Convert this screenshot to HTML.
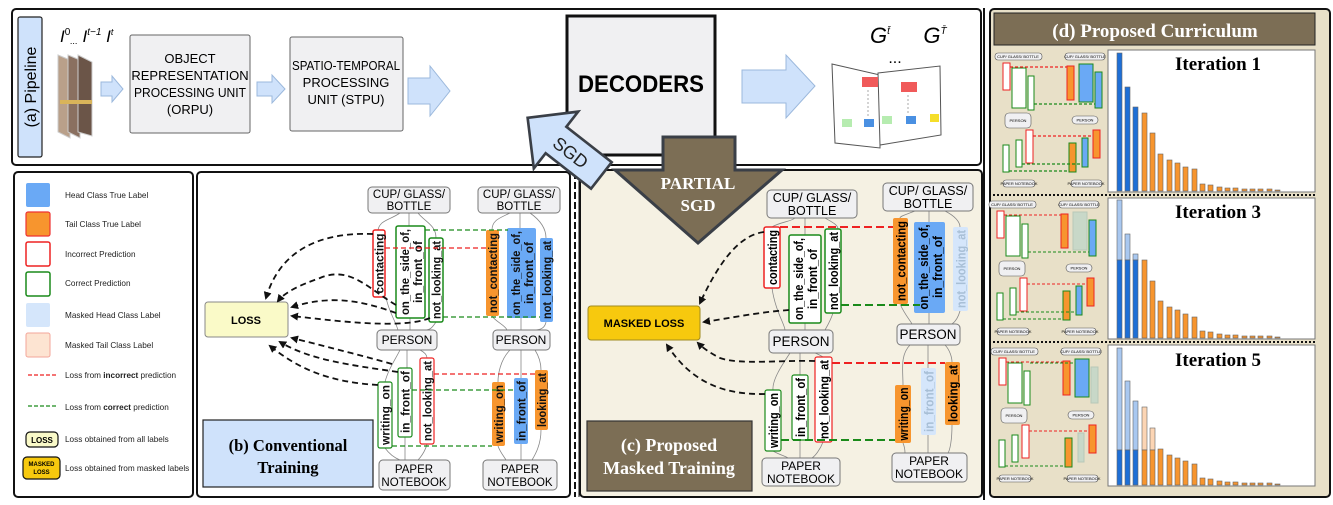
<!DOCTYPE html>
<html><head><meta charset="utf-8"><style>
html,body{margin:0;padding:0;background:#fff;}
svg{display:block;}
text{font-family:"Liberation Sans",sans-serif;}
.s{font-family:"Liberation Serif",serif;font-weight:bold;}
.lb{font-size:12px;fill:#111;}
.bx{fill:#f0f0f2;stroke:#777;stroke-width:1;}
.ln{fill:none;stroke:#888;stroke-width:0.8;}
.bd{fill:none;stroke:#111;stroke-width:1.8;stroke-dasharray:6,4;}
</style></head><body>
<svg width="1333" height="505" viewBox="0 0 1333 505" xmlns="http://www.w3.org/2000/svg">
<defs>
<marker id="ah" markerWidth="8" markerHeight="8" refX="6" refY="4" orient="auto" markerUnits="userSpaceOnUse"><path d="M0,0 L8,4 L0,8 Z" fill="#111"/></marker>
</defs>

<!-- (a) pipeline panel -->
<rect x="12" y="9" width="969" height="156" rx="4" fill="#fff" stroke="#111" stroke-width="2"/>
<rect x="18" y="17" width="24" height="140" rx="2" fill="#cfe2fb" stroke="#222" stroke-width="1.2"/>
<text x="0" y="0" font-family="Liberation Serif" font-size="16" transform="translate(36,87) rotate(-90)" text-anchor="middle">(a) Pipeline</text>
<text x="60" y="42" font-family="Liberation Serif" font-style="italic" font-size="17">I<tspan font-size="10" dy="-7" font-style="normal">0</tspan><tspan font-size="9" dy="9">...</tspan><tspan dy="-2"> I</tspan><tspan font-size="10" dy="-7">t−1</tspan><tspan dy="7"> I</tspan><tspan font-size="9" dy="-7">t</tspan></text>
<polygon points="58,55 70,60 70,138 58,132" fill="#b9a08a" stroke="#ccc"/>
<polygon points="68,55 80,60 80,138 68,132" fill="#8a7060" stroke="#ccc"/>
<polygon points="78,55 92,62 92,136 78,132" fill="#6b5548" stroke="#ccc"/>
<rect x="60" y="100" width="32" height="4" fill="#d9b45a"/>
<polygon points="101,82 112,82 112,76 123,89 112,102 112,96 101,96" fill="#cfe2fb" stroke="#9bb8dc"/>
<rect x="130" y="35" width="120" height="98" rx="2" fill="#f0f0f2" stroke="#666"/>
<text x="190" y="63" font-size="13" text-anchor="middle">OBJECT</text>
<text x="190" y="80" font-size="13" text-anchor="middle">REPRESENTATION</text>
<text x="190" y="97" font-size="13" text-anchor="middle" textLength="112" lengthAdjust="spacingAndGlyphs">PROCESSING UNIT</text>
<text x="190" y="114" font-size="13" text-anchor="middle">(ORPU)</text>
<polygon points="257,82 272,82 272,75 285,89 272,103 272,96 257,96" fill="#cfe2fb" stroke="#9bb8dc"/>
<rect x="290" y="37" width="113" height="94" rx="2" fill="#f0f0f2" stroke="#666"/>
<text x="346" y="70" font-size="13" text-anchor="middle" textLength="108" lengthAdjust="spacingAndGlyphs">SPATIO-TEMPORAL</text>
<text x="346" y="87" font-size="13" text-anchor="middle">PROCESSING</text>
<text x="346" y="104" font-size="13" text-anchor="middle">UNIT (STPU)</text>
<polygon points="408,78 430,78 430,66 450,91 430,116 430,104 408,104" fill="#cfe2fb" stroke="#9bb8dc"/>
<rect x="567" y="16" width="148" height="139" fill="#f0f0f2" stroke="#111" stroke-width="3"/>
<text x="641" y="92" font-size="24" font-weight="bold" text-anchor="middle" textLength="126" lengthAdjust="spacingAndGlyphs">DECODERS</text>
<polygon points="742,70 786,70 786,55 815,86 786,118 786,103 742,103" fill="#cfe2fb" stroke="#9bb8dc"/>
<text x="880" y="43" font-family="Liberation Serif" font-style="italic" font-size="22" text-anchor="middle">G<tspan font-size="10" dy="-9">t̄</tspan></text>
<text x="895" y="63" font-size="16" text-anchor="middle">...</text>
<text x="935" y="43" font-family="Liberation Serif" font-style="italic" font-size="22" text-anchor="middle">G<tspan font-size="10" dy="-9">T̄</tspan></text>
<polygon points="832,64 880,75 880,148 835,143" fill="#fff" stroke="#555"/>
<polygon points="878,73 940,66 941,135 880,145" fill="#fff" stroke="#555"/>
<rect x="862" y="77" width="16" height="10" fill="#f05a5a"/><rect x="901" y="82" width="16" height="10" fill="#f05a5a"/>
<rect x="842" y="119" width="10" height="8" fill="#b6ecb0"/><rect x="864" y="119" width="10" height="8" fill="#4a90e2"/>
<rect x="882" y="116" width="10" height="8" fill="#b6ecb0"/><rect x="906" y="116" width="10" height="8" fill="#4a90e2"/><rect x="930" y="114" width="9" height="8" fill="#f5de2a"/>
<line x1="868" y1="90" x2="868" y2="118" stroke="#aaa" stroke-dasharray="2,2"/><line x1="908" y1="95" x2="908" y2="115" stroke="#aaa" stroke-dasharray="2,2"/>

<!-- legend -->
<rect x="14" y="172" width="179" height="325" rx="4" fill="#fff" stroke="#111" stroke-width="2"/>
<rect x="26" y="183" width="24" height="24" rx="2" fill="#6aa9f5"/>
<rect x="26" y="212" width="24" height="24" rx="2" fill="#f7952e" stroke="#e33" stroke-width="1.2"/>
<rect x="26" y="242" width="24" height="24" rx="2" fill="#fff" stroke="#e22" stroke-width="1.5"/>
<rect x="26" y="272" width="24" height="24" rx="2" fill="#fff" stroke="#1a8a1a" stroke-width="1.5"/>
<rect x="26" y="303" width="24" height="24" rx="2" fill="#d5e6fb"/>
<rect x="26" y="333" width="24" height="24" rx="2" fill="#fde4d2" stroke="#f3a69a"/>
<line x1="28" y1="375" x2="57" y2="375" stroke="#e22" stroke-width="1.2" stroke-dasharray="4,2"/>
<line x1="28" y1="406" x2="57" y2="406" stroke="#1a8a1a" stroke-width="1.2" stroke-dasharray="4,2"/>
<rect x="26" y="432" width="32" height="15" rx="4" fill="#fafac8" stroke="#111" stroke-width="1.2"/>
<text x="42" y="443" font-size="8" font-weight="bold" text-anchor="middle">LOSS</text>
<rect x="23" y="457" width="37" height="22" rx="4" fill="#f7c90e" stroke="#111" stroke-width="1.2"/>
<text x="41.5" y="466" font-size="6" font-weight="bold" text-anchor="middle">MASKED</text>
<text x="41.5" y="474" font-size="6" font-weight="bold" text-anchor="middle">LOSS</text>
<g font-size="8.2" fill="#222">
<text x="65" y="198">Head Class True Label</text>
<text x="65" y="227">Tail Class True Label</text>
<text x="65" y="257">Incorrect Prediction</text>
<text x="65" y="286">Correct Prediction</text>
<text x="65" y="318">Masked Head Class Label</text>
<text x="65" y="348">Masked Tail Class Label</text>
<text x="65" y="378">Loss from <tspan font-weight="bold">incorrect</tspan> prediction</text>
<text x="65" y="410">Loss from <tspan font-weight="bold">correct</tspan> prediction</text>
<text x="65" y="442">Loss obtained from all labels</text>
<text x="65" y="471">Loss obtained from masked labels</text>
</g>

<!-- (b) panel -->
<rect x="197" y="172" width="373" height="325" rx="4" fill="#fff" stroke="#111" stroke-width="2"/>
<line x1="575" y1="172" x2="575" y2="497" stroke="#111" stroke-width="2" stroke-dasharray="7,3"/>
<line x1="579" y1="172" x2="579" y2="497" stroke="#111" stroke-width="1"/>
<path class="ln" d="M400,213 C390,220 380,220 378,230 M409,213 V226 M418,213 C425,222 436,225 436,238 M386,297 C388,310 395,320 398,330 M410,318 V330 M436,322 C432,328 430,330 425,330 M400,350 C395,360 388,370 385,382 M407,350 V368 M420,350 C424,352 427,355 427,358 M385,448 C390,455 395,458 400,460 M405,437 V460 M427,444 C425,452 420,458 418,460"/>
<path class="ln" d="M510,213 C500,218 492,220 492,230 M520,213 V228 M530,213 C540,220 546,228 546,238 M492,316 C496,322 505,325 507,330 M521,318 V330 M546,322 C545,328 540,330 535,330 M510,350 C500,360 498,375 498,382 M521,350 V378 M535,350 C540,358 541,365 541,370 M498,446 C500,452 505,458 506,460 M521,444 V460 M541,430 C541,445 535,455 532,460"/>
<rect class="bx" x="368" y="187" width="82" height="26" rx="4"/>
<text x="409" y="198" font-size="11.5" text-anchor="middle">CUP/ GLASS/</text><text x="409" y="210" font-size="11.5" text-anchor="middle">BOTTLE</text>
<rect class="bx" x="478" y="187" width="82" height="26" rx="4"/>
<text x="519" y="198" font-size="11.5" text-anchor="middle">CUP/ GLASS/</text><text x="519" y="210" font-size="11.5" text-anchor="middle">BOTTLE</text>
<rect class="bx" x="377" y="330" width="60" height="20" rx="4"/><text x="407" y="344" font-size="12" text-anchor="middle">PERSON</text>
<rect class="bx" x="493" y="330" width="57" height="20" rx="4"/><text x="521" y="344" font-size="12" text-anchor="middle">PERSON</text>
<rect class="bx" x="379" y="460" width="71" height="30" rx="4"/><text x="414" y="473" font-size="11.5" text-anchor="middle">PAPER</text><text x="414" y="486" font-size="11.5" text-anchor="middle">NOTEBOOK</text>
<rect class="bx" x="483" y="460" width="74" height="30" rx="4"/><text x="520" y="473" font-size="11.5" text-anchor="middle">PAPER</text><text x="520" y="486" font-size="11.5" text-anchor="middle">NOTEBOOK</text>
<g class="lb" font-weight="bold" font-size="12">
<rect x="373" y="230" width="12" height="67" rx="2" fill="#fff" stroke="#e22" stroke-width="1.5"/>
<text transform="translate(383.5,263.5) rotate(-90)" text-anchor="middle" textLength="60" lengthAdjust="spacingAndGlyphs">contacting</text>
<rect x="396" y="226" width="29" height="92" rx="2" fill="#fff" stroke="#1a8a1a" stroke-width="1.5"/>
<text transform="translate(409,272) rotate(-90)" text-anchor="middle" textLength="86" lengthAdjust="spacingAndGlyphs">on_the_side_of,</text>
<text transform="translate(422,272) rotate(-90)" text-anchor="middle" textLength="62" lengthAdjust="spacingAndGlyphs">in_front_of</text>
<rect x="429" y="238" width="14" height="84" rx="2" fill="#fff" stroke="#1a8a1a" stroke-width="1.5"/>
<text transform="translate(440.5,280) rotate(-90)" text-anchor="middle" textLength="78" lengthAdjust="spacingAndGlyphs">not_looking_at</text>
<rect x="486" y="230" width="13" height="86" rx="2" fill="#f7952e"/>
<text transform="translate(497,273) rotate(-90)" text-anchor="middle" textLength="80" lengthAdjust="spacingAndGlyphs">not_contacting</text>
<rect x="507" y="228" width="29" height="90" rx="2" fill="#6aa9f5"/>
<text transform="translate(520,273) rotate(-90)" text-anchor="middle" textLength="84" lengthAdjust="spacingAndGlyphs">on_the_side_of,</text>
<text transform="translate(533,273) rotate(-90)" text-anchor="middle" textLength="62" lengthAdjust="spacingAndGlyphs">in_front_of</text>
<rect x="540" y="238" width="13" height="84" rx="2" fill="#6aa9f5"/>
<text transform="translate(551,280) rotate(-90)" text-anchor="middle" textLength="78" lengthAdjust="spacingAndGlyphs">not_looking_at</text>
<rect x="378" y="382" width="14" height="66" rx="2" fill="#fff" stroke="#1a8a1a" stroke-width="1.2"/>
<text transform="translate(389.5,415) rotate(-90)" text-anchor="middle" textLength="60" lengthAdjust="spacingAndGlyphs">writing_on</text>
<rect x="398" y="368" width="14" height="69" rx="2" fill="#fff" stroke="#1a8a1a" stroke-width="1.2"/>
<text transform="translate(409.5,402) rotate(-90)" text-anchor="middle" textLength="62" lengthAdjust="spacingAndGlyphs">in_front_of</text>
<rect x="420" y="358" width="14" height="86" rx="2" fill="#fff" stroke="#e22" stroke-width="1.2"/>
<text transform="translate(431.5,401) rotate(-90)" text-anchor="middle" textLength="80" lengthAdjust="spacingAndGlyphs">not_looking_at</text>
<rect x="492" y="382" width="13" height="64" rx="2" fill="#f7952e"/>
<text transform="translate(503,414) rotate(-90)" text-anchor="middle" textLength="58" lengthAdjust="spacingAndGlyphs">writing_on</text>
<rect x="514" y="378" width="14" height="66" rx="2" fill="#6aa9f5"/>
<text transform="translate(525.5,411) rotate(-90)" text-anchor="middle" textLength="60" lengthAdjust="spacingAndGlyphs">in_front_of</text>
<rect x="535" y="370" width="13" height="60" rx="2" fill="#f7952e"/>
<text transform="translate(546,400) rotate(-90)" text-anchor="middle" textLength="54" lengthAdjust="spacingAndGlyphs">looking_at</text>
</g>
<g stroke-width="1.3" stroke-dasharray="5,3" fill="none">
<line x1="425" y1="230" x2="508" y2="230" stroke="#1a8a1a"/>
<line x1="385" y1="248" x2="487" y2="248" stroke="#e22"/>
<line x1="443" y1="317" x2="540" y2="317" stroke="#1a8a1a"/>
<line x1="434" y1="374" x2="538" y2="374" stroke="#e22"/>
<line x1="412" y1="390" x2="516" y2="390" stroke="#1a8a1a"/>
<line x1="392" y1="446" x2="492" y2="446" stroke="#1a8a1a"/>
</g>
<rect x="205" y="302" width="83" height="35" rx="3" fill="#fafac8" stroke="#888"/>
<text x="246" y="324" font-size="11" font-weight="bold" text-anchor="middle">LOSS</text>
<g marker-end="url(#ah)">
<path class="bd" d="M373,234 C320,232 280,250 266,298"/>
<path class="bd" d="M396,305 C370,290 350,265 320,278 C300,285 285,292 278,301"/>
<path class="bd" d="M396,313 C360,300 330,295 292,307"/>
<path class="bd" d="M430,318 C400,330 330,320 292,316"/>
<path class="bd" d="M392,364 C360,355 320,345 292,338"/>
<path class="bd" d="M398,372 C350,365 310,360 280,342"/>
<path class="bd" d="M378,385 C330,382 300,370 270,346"/>
</g>
<rect x="203" y="420" width="170" height="67" fill="#cfe2fb" stroke="#222" stroke-width="1.2"/>
<text class="s" x="288" y="451" font-size="16.5" text-anchor="middle">(b) Conventional</text>
<text class="s" x="288" y="473" font-size="16.5" text-anchor="middle">Training</text>

<!-- (c) panel -->
<rect x="580" y="170" width="402" height="327" rx="4" fill="#f5f1e3" stroke="#111" stroke-width="2"/>
<path class="ln" d="M795,218 C790,222 780,222 772,227 M805,218 V235 M825,218 C832,222 838,225 838,229 M772,288 C775,310 785,325 785,330 M805,323 V330 M833,313 C830,322 826,328 825,330 M790,353 C782,365 772,380 773,390 M800,353 V375 M815,353 C820,355 823,357 823,357 M773,451 C780,455 785,456 788,458 M800,440 V458 M823,442 C820,450 815,456 812,458"/>
<path class="ln" d="M915,211 C905,215 900,216 900,218 M929,211 V222 M945,211 C955,216 960,222 960,227 M900,304 C905,315 910,320 912,324 M929,313 V324 M960,311 C958,318 955,322 952,324 M910,345 C900,355 903,370 903,385 M928,345 V368 M945,345 C950,350 952,358 952,362 M903,443 C905,448 905,452 905,453 M928,435 V453 M952,425 C952,440 950,450 948,453"/>
<rect class="bx" x="767" y="190" width="90" height="28" rx="4"/>
<text x="812" y="202" font-size="12.5" text-anchor="middle">CUP/ GLASS/</text><text x="812" y="215" font-size="12.5" text-anchor="middle">BOTTLE</text>
<rect class="bx" x="883" y="183" width="90" height="28" rx="4"/>
<text x="928" y="195" font-size="12.5" text-anchor="middle">CUP/ GLASS/</text><text x="928" y="208" font-size="12.5" text-anchor="middle">BOTTLE</text>
<rect class="bx" x="769" y="330" width="64" height="23" rx="4"/><text x="801" y="346" font-size="13.5" text-anchor="middle">PERSON</text>
<rect class="bx" x="897" y="324" width="63" height="21" rx="4"/><text x="928" y="339" font-size="13.5" text-anchor="middle">PERSON</text>
<rect class="bx" x="762" y="458" width="78" height="28" rx="4"/><text x="801" y="470" font-size="12" text-anchor="middle">PAPER</text><text x="801" y="483" font-size="12" text-anchor="middle">NOTEBOOK</text>
<rect class="bx" x="892" y="453" width="75" height="29" rx="4"/><text x="929" y="465" font-size="12" text-anchor="middle">PAPER</text><text x="929" y="478" font-size="12" text-anchor="middle">NOTEBOOK</text>
<g font-size="13" font-weight="bold">
<rect x="764" y="227" width="16" height="61" rx="2" fill="#fff" stroke="#e22" stroke-width="1.5"/>
<text transform="translate(777,257.5) rotate(-90)" text-anchor="middle" textLength="55" lengthAdjust="spacingAndGlyphs">contacting</text>
<rect x="789" y="235" width="32" height="88" rx="2" fill="#fff" stroke="#1a8a1a" stroke-width="1.5"/>
<text transform="translate(803,279) rotate(-90)" text-anchor="middle" textLength="82" lengthAdjust="spacingAndGlyphs">on_the_side_of,</text>
<text transform="translate(817,279) rotate(-90)" text-anchor="middle" textLength="60" lengthAdjust="spacingAndGlyphs">in_front_of</text>
<rect x="825" y="229" width="16" height="84" rx="2" fill="#fff" stroke="#1a8a1a" stroke-width="1.5"/>
<text transform="translate(838,271) rotate(-90)" text-anchor="middle" textLength="78" lengthAdjust="spacingAndGlyphs">not_looking_at</text>
<rect x="893" y="218" width="15" height="86" rx="2" fill="#f7952e"/>
<text transform="translate(905.5,261) rotate(-90)" text-anchor="middle" textLength="80" lengthAdjust="spacingAndGlyphs">not_contacting</text>
<rect x="914" y="222" width="31" height="91" rx="2" fill="#6aa9f5"/>
<text transform="translate(928,267) rotate(-90)" text-anchor="middle" textLength="85" lengthAdjust="spacingAndGlyphs">on_the_side_of,</text>
<text transform="translate(942,267) rotate(-90)" text-anchor="middle" textLength="62" lengthAdjust="spacingAndGlyphs">in_front_of</text>
<rect x="953" y="227" width="15" height="84" rx="2" fill="#d5e6fb"/>
<text transform="translate(965.5,269) rotate(-90)" text-anchor="middle" fill="#a8bfd6" textLength="78" lengthAdjust="spacingAndGlyphs">not_looking_at</text>
<rect x="765" y="390" width="16" height="61" rx="2" fill="#fff" stroke="#1a8a1a" stroke-width="1.2"/>
<text transform="translate(778,420.5) rotate(-90)" text-anchor="middle" textLength="55" lengthAdjust="spacingAndGlyphs">writing_on</text>
<rect x="792" y="375" width="16" height="65" rx="2" fill="#fff" stroke="#1a8a1a" stroke-width="1.2"/>
<text transform="translate(805,407.5) rotate(-90)" text-anchor="middle" textLength="59" lengthAdjust="spacingAndGlyphs">in_front_of</text>
<rect x="815" y="357" width="17" height="85" rx="2" fill="#fff" stroke="#e22" stroke-width="1.2"/>
<text transform="translate(828.5,399.5) rotate(-90)" text-anchor="middle" textLength="79" lengthAdjust="spacingAndGlyphs">not_looking_at</text>
<rect x="895" y="385" width="16" height="58" rx="2" fill="#f7952e"/>
<text transform="translate(908,414) rotate(-90)" text-anchor="middle" textLength="53" lengthAdjust="spacingAndGlyphs">writing_on</text>
<rect x="921" y="368" width="15" height="67" rx="2" fill="#d5e6fb"/>
<text transform="translate(933.5,401.5) rotate(-90)" text-anchor="middle" fill="#a8bfd6" textLength="61" lengthAdjust="spacingAndGlyphs">in_front_of</text>
<rect x="945" y="362" width="15" height="63" rx="2" fill="#f7952e"/>
<text transform="translate(957.5,393.5) rotate(-90)" text-anchor="middle" textLength="57" lengthAdjust="spacingAndGlyphs">looking_at</text>
</g>
<g stroke-width="2" stroke-dasharray="8,4" fill="none">
<line x1="780" y1="227" x2="893" y2="227" stroke="#e22"/>
<line x1="841" y1="305" x2="920" y2="305" stroke="#1a8a1a"/>
<line x1="832" y1="363" x2="945" y2="363" stroke="#e22"/>
<line x1="781" y1="440" x2="895" y2="440" stroke="#1a8a1a"/>
</g>
<rect x="588" y="306" width="112" height="34" rx="3" fill="#f7c90e" stroke="#a08a20"/>
<text x="644" y="327" font-size="11" font-weight="bold" text-anchor="middle">MASKED LOSS</text>
<g marker-end="url(#ah)">
<path class="bd" d="M764,232 C740,235 720,260 700,303"/>
<path class="bd" d="M789,310 C760,312 730,318 704,322"/>
<path class="bd" d="M815,361 C780,360 740,365 720,358 C710,353 703,348 698,343"/>
<path class="bd" d="M765,394 C720,395 690,380 667,345"/>
</g>
<rect x="587" y="421" width="165" height="70" fill="#7c6e55" stroke="#333" stroke-width="1.2"/>
<text class="s" x="669" y="451" font-size="18" fill="#fff" text-anchor="middle">(c) Proposed</text>
<text class="s" x="669" y="474" font-size="18" fill="#fff" text-anchor="middle">Masked Training</text>

<!-- SGD arrow -->
<g transform="translate(556,140) rotate(38) scale(1.2)">
<polygon points="-30,0 0,-30 0,-14 48,-14 48,14 0,14 0,30" fill="#cfe2fb" stroke="#3a3f47" stroke-width="2.2" stroke-linejoin="miter"/>
<text x="16" y="6" font-family="Liberation Serif" font-size="15" fill="#222" text-anchor="middle">SGD</text>
</g>
<!-- PARTIAL SGD arrow -->
<polygon points="663,137 735,137 735,170 782,170 698,243 615,170 663,170" fill="#7c6e55" stroke="#3a3f47" stroke-width="3"/>
<text class="s" x="698" y="189" font-size="17" fill="#fff" text-anchor="middle">PARTIAL</text>
<text class="s" x="698" y="211" font-size="17" fill="#fff" text-anchor="middle">SGD</text>

<!-- (d) panel -->
<line x1="984" y1="8" x2="984" y2="500" stroke="#111" stroke-width="2"/>
<rect x="990" y="9" width="340" height="488" rx="4" fill="#e8e0c8" stroke="#111" stroke-width="2"/>
<rect x="994" y="13" width="321" height="32" fill="#7c6e55" stroke="#222"/>
<text class="s" x="1155" y="37" font-size="19" fill="#fff" text-anchor="middle">(d) Proposed Curriculum</text>
<line x1="993" y1="195" x2="1315" y2="195" stroke="#111" stroke-width="2" stroke-dasharray="2,2"/>
<line x1="993" y1="342" x2="1315" y2="342" stroke="#111" stroke-width="2" stroke-dasharray="2,2"/>
<rect x="1108" y="50" width="207" height="142" fill="#fff" stroke="#777"/>
<rect x="1108" y="198" width="207" height="141" fill="#fff" stroke="#777"/>
<rect x="1108" y="345" width="207" height="141" fill="#fff" stroke="#777"/>
<text class="s" x="1218" y="70" font-size="19" text-anchor="middle">Iteration 1</text>
<text class="s" x="1218" y="218" font-size="19" text-anchor="middle">Iteration 3</text>
<text class="s" x="1218" y="366" font-size="19" text-anchor="middle">Iteration 5</text>
<g stroke="#666" stroke-width="0.6">
<rect x="1117" y="53" width="5" height="138" fill="#1e6fd6"/>
<rect x="1125" y="87" width="5" height="104" fill="#1e6fd6"/>
<rect x="1133" y="107" width="5" height="84" fill="#1e6fd6"/>
<rect x="1142" y="113" width="5" height="78" fill="#f7952e"/>
<rect x="1150" y="133" width="5" height="58" fill="#f7952e"/>
<rect x="1158" y="154" width="5" height="37" fill="#f7952e"/>
<rect x="1167" y="160" width="5" height="31" fill="#f7952e"/>
<rect x="1175" y="163" width="5" height="28" fill="#f7952e"/>
<rect x="1183" y="167" width="5" height="24" fill="#f7952e"/>
<rect x="1192" y="169" width="5" height="22" fill="#f7952e"/>
<rect x="1200" y="184" width="5" height="7" fill="#f7952e"/>
<rect x="1208" y="185" width="5" height="6" fill="#f7952e"/>
<rect x="1217" y="187" width="5" height="4" fill="#f7952e"/>
<rect x="1225" y="188" width="5" height="3" fill="#f7952e"/>
<rect x="1233" y="188" width="5" height="3" fill="#f7952e"/>
<rect x="1242" y="189" width="5" height="2" fill="#f7952e"/>
<rect x="1250" y="189" width="5" height="2" fill="#f7952e"/>
<rect x="1258" y="189" width="5" height="2" fill="#f7952e"/>
<rect x="1267" y="189" width="5" height="2" fill="#f7952e"/>
<rect x="1275" y="190" width="5" height="1" fill="#f7952e"/>
<rect x="1117" y="200" width="5" height="60" fill="#a9c8f0"/>
<rect x="1125" y="234" width="5" height="26" fill="#a9c8f0"/>
<rect x="1133" y="254" width="5" height="6" fill="#a9c8f0"/>
<rect x="1117" y="260" width="5" height="78" fill="#1e6fd6"/>
<rect x="1125" y="260" width="5" height="78" fill="#1e6fd6"/>
<rect x="1133" y="260" width="5" height="78" fill="#1e6fd6"/>
<rect x="1142" y="260" width="5" height="78" fill="#f7952e"/>
<rect x="1150" y="281" width="5" height="57" fill="#f7952e"/>
<rect x="1158" y="301" width="5" height="37" fill="#f7952e"/>
<rect x="1167" y="307" width="5" height="31" fill="#f7952e"/>
<rect x="1175" y="310" width="5" height="28" fill="#f7952e"/>
<rect x="1183" y="314" width="5" height="24" fill="#f7952e"/>
<rect x="1192" y="317" width="5" height="21" fill="#f7952e"/>
<rect x="1200" y="331" width="5" height="7" fill="#f7952e"/>
<rect x="1208" y="332" width="5" height="6" fill="#f7952e"/>
<rect x="1217" y="334" width="5" height="4" fill="#f7952e"/>
<rect x="1225" y="335" width="5" height="3" fill="#f7952e"/>
<rect x="1233" y="335" width="5" height="3" fill="#f7952e"/>
<rect x="1242" y="336" width="5" height="2" fill="#f7952e"/>
<rect x="1250" y="336" width="5" height="2" fill="#f7952e"/>
<rect x="1258" y="336" width="5" height="2" fill="#f7952e"/>
<rect x="1267" y="336" width="5" height="2" fill="#f7952e"/>
<rect x="1275" y="337" width="5" height="1" fill="#f7952e"/>
<rect x="1117" y="348" width="5" height="102" fill="#a9c8f0"/>
<rect x="1125" y="381" width="5" height="69" fill="#a9c8f0"/>
<rect x="1133" y="401" width="5" height="49" fill="#a9c8f0"/>
<rect x="1142" y="407" width="5" height="43" fill="#fcd5b4"/>
<rect x="1150" y="428" width="5" height="22" fill="#fcd5b4"/>
<rect x="1117" y="450" width="5" height="35" fill="#1e6fd6"/>
<rect x="1125" y="450" width="5" height="35" fill="#1e6fd6"/>
<rect x="1133" y="450" width="5" height="35" fill="#1e6fd6"/>
<rect x="1142" y="450" width="5" height="35" fill="#f7952e"/>
<rect x="1150" y="450" width="5" height="35" fill="#f7952e"/>
<rect x="1158" y="449" width="5" height="36" fill="#f7952e"/>
<rect x="1167" y="455" width="5" height="30" fill="#f7952e"/>
<rect x="1175" y="458" width="5" height="27" fill="#f7952e"/>
<rect x="1183" y="461" width="5" height="24" fill="#f7952e"/>
<rect x="1192" y="464" width="5" height="21" fill="#f7952e"/>
<rect x="1200" y="478" width="5" height="7" fill="#f7952e"/>
<rect x="1208" y="479" width="5" height="6" fill="#f7952e"/>
<rect x="1217" y="481" width="5" height="4" fill="#f7952e"/>
<rect x="1225" y="482" width="5" height="3" fill="#f7952e"/>
<rect x="1233" y="482" width="5" height="3" fill="#f7952e"/>
<rect x="1242" y="483" width="5" height="2" fill="#f7952e"/>
<rect x="1250" y="483" width="5" height="2" fill="#f7952e"/>
<rect x="1258" y="483" width="5" height="2" fill="#f7952e"/>
<rect x="1267" y="483" width="5" height="2" fill="#f7952e"/>
<rect x="1275" y="484" width="5" height="1" fill="#f7952e"/>
</g>

<!-- mini diagrams -->
<g font-size="4" text-anchor="middle">
<g>
<rect x="995" y="53" width="47" height="7" rx="3" fill="#f0f0f2" stroke="#555" stroke-width="0.6"/><text x="1018" y="58">CUP/ GLASS/ BOTTLE</text>
<rect x="1065" y="53" width="40" height="7" rx="3" fill="#f0f0f2" stroke="#555" stroke-width="0.6"/><text x="1085" y="58">CUP/ GLASS/ BOTTLE</text>
<rect x="1003" y="63" width="7" height="27" fill="#fff" stroke="#e22"/>
<rect x="1012" y="68" width="14" height="40" fill="#fff" stroke="#1a8a1a"/>
<rect x="1028" y="76" width="6" height="34" fill="#fff" stroke="#1a8a1a"/>
<rect x="1067" y="66" width="7" height="34" fill="#f7952e" stroke="#e22"/>
<rect x="1079" y="64" width="14" height="38" fill="#6aa9f5" stroke="#1a8a1a"/>
<rect x="1095" y="72" width="7" height="36" fill="#6aa9f5" stroke="#1a8a1a"/>
<rect x="1005" y="113" width="26" height="15" rx="4" fill="#f0f0f2" stroke="#555" stroke-width="0.6"/><text x="1018" y="122">PERSON</text>
<rect x="1072" y="116" width="26" height="8" rx="4" fill="#f0f0f2" stroke="#555" stroke-width="0.6"/><text x="1085" y="121.5">PERSON</text>
<rect x="1003" y="145" width="6" height="27" fill="#fff" stroke="#1a8a1a"/>
<rect x="1016" y="140" width="6" height="27" fill="#fff" stroke="#1a8a1a"/>
<rect x="1026" y="130" width="7" height="33" fill="#fff" stroke="#e22"/>
<rect x="1069" y="143" width="7" height="29" fill="#f7952e" stroke="#1a8a1a"/>
<rect x="1082" y="138" width="6" height="29" fill="#6aa9f5" stroke="#1a8a1a"/>
<rect x="1093" y="130" width="7" height="28" fill="#f7952e" stroke="#e22"/>
<rect x="1003" y="180" width="32" height="7" rx="3" fill="#f0f0f2" stroke="#555" stroke-width="0.6"/><text x="1019" y="185">PAPER NOTEBOOK</text>
<rect x="1071" y="180" width="31" height="7" rx="3" fill="#f0f0f2" stroke="#555" stroke-width="0.6"/><text x="1086" y="185">PAPER NOTEBOOK</text>
<g stroke-width="1.3" stroke-dasharray="3,2"><line x1="1010" y1="67" x2="1067" y2="67" stroke="#e22"/><line x1="1034" y1="104" x2="1095" y2="104" stroke="#1a8a1a"/><line x1="1033" y1="136" x2="1093" y2="136" stroke="#e22"/><line x1="1022" y1="164" x2="1082" y2="164" stroke="#1a8a1a"/><line x1="1009" y1="171" x2="1069" y2="171" stroke="#1a8a1a"/></g>
</g>
<g transform="translate(-6,148)">
<rect x="995" y="53" width="47" height="7" rx="3" fill="#f0f0f2" stroke="#555" stroke-width="0.6"/><text x="1018" y="58">CUP/ GLASS/ BOTTLE</text>
<rect x="1065" y="53" width="40" height="7" rx="3" fill="#f0f0f2" stroke="#555" stroke-width="0.6"/><text x="1085" y="58">CUP/ GLASS/ BOTTLE</text>
<rect x="1003" y="63" width="7" height="27" fill="#fff" stroke="#e22"/>
<rect x="1012" y="68" width="14" height="40" fill="#fff" stroke="#1a8a1a"/>
<rect x="1028" y="76" width="6" height="34" fill="#fff" stroke="#1a8a1a"/>
<rect x="1067" y="66" width="7" height="34" fill="#f7952e" stroke="#e22"/>
<rect x="1079" y="64" width="14" height="38" fill="#c8d8c8" stroke="#b8c8b8"/>
<rect x="1095" y="72" width="7" height="36" fill="#6aa9f5" stroke="#1a8a1a"/>
<rect x="1005" y="113" width="26" height="15" rx="4" fill="#f0f0f2" stroke="#555" stroke-width="0.6"/><text x="1018" y="122">PERSON</text>
<rect x="1072" y="116" width="26" height="8" rx="4" fill="#f0f0f2" stroke="#555" stroke-width="0.6"/><text x="1085" y="121.5">PERSON</text>
<rect x="1003" y="145" width="6" height="27" fill="#fff" stroke="#1a8a1a"/>
<rect x="1016" y="140" width="6" height="27" fill="#fff" stroke="#1a8a1a"/>
<rect x="1026" y="130" width="7" height="33" fill="#fff" stroke="#e22"/>
<rect x="1069" y="143" width="7" height="29" fill="#f7952e" stroke="#1a8a1a"/>
<rect x="1082" y="138" width="6" height="29" fill="#6aa9f5" stroke="#1a8a1a"/>
<rect x="1093" y="130" width="7" height="28" fill="#f7952e" stroke="#e22"/>
<rect x="1003" y="180" width="32" height="7" rx="3" fill="#f0f0f2" stroke="#555" stroke-width="0.6"/><text x="1019" y="185">PAPER NOTEBOOK</text>
<rect x="1071" y="180" width="31" height="7" rx="3" fill="#f0f0f2" stroke="#555" stroke-width="0.6"/><text x="1086" y="185">PAPER NOTEBOOK</text>
<g stroke-width="1" stroke-dasharray="3,2"><line x1="1010" y1="67" x2="1067" y2="67" stroke="#e22"/><line x1="1034" y1="104" x2="1095" y2="104" stroke="#1a8a1a"/><line x1="1033" y1="136" x2="1093" y2="136" stroke="#e22"/><line x1="1022" y1="164" x2="1082" y2="164" stroke="#1a8a1a"/><line x1="1009" y1="171" x2="1069" y2="171" stroke="#1a8a1a"/></g>
</g>
<g transform="translate(-4,295)">
<rect x="995" y="53" width="47" height="7" rx="3" fill="#f0f0f2" stroke="#555" stroke-width="0.6"/><text x="1018" y="58">CUP/ GLASS/ BOTTLE</text>
<rect x="1065" y="53" width="40" height="7" rx="3" fill="#f0f0f2" stroke="#555" stroke-width="0.6"/><text x="1085" y="58">CUP/ GLASS/ BOTTLE</text>
<rect x="1003" y="63" width="7" height="27" fill="#fff" stroke="#e22"/>
<rect x="1012" y="68" width="14" height="40" fill="#fff" stroke="#1a8a1a"/>
<rect x="1028" y="76" width="6" height="34" fill="#fff" stroke="#1a8a1a"/>
<rect x="1067" y="66" width="7" height="34" fill="#f7952e" stroke="#e22"/>
<rect x="1079" y="64" width="14" height="38" fill="#6aa9f5" stroke="#1a8a1a"/>
<rect x="1095" y="72" width="7" height="36" fill="#c8d8c8" stroke="#b8c8b8"/>
<rect x="1005" y="113" width="26" height="15" rx="4" fill="#f0f0f2" stroke="#555" stroke-width="0.6"/><text x="1018" y="122">PERSON</text>
<rect x="1072" y="116" width="26" height="8" rx="4" fill="#f0f0f2" stroke="#555" stroke-width="0.6"/><text x="1085" y="121.5">PERSON</text>
<rect x="1003" y="145" width="6" height="27" fill="#fff" stroke="#1a8a1a"/>
<rect x="1016" y="140" width="6" height="27" fill="#fff" stroke="#1a8a1a"/>
<rect x="1026" y="130" width="7" height="33" fill="#fff" stroke="#e22"/>
<rect x="1069" y="143" width="7" height="29" fill="#f7952e" stroke="#1a8a1a"/>
<rect x="1082" y="138" width="6" height="29" fill="#c8d8c8" stroke="#b8c8b8"/>
<rect x="1093" y="130" width="7" height="28" fill="#f7952e" stroke="#e22"/>
<rect x="1003" y="180" width="32" height="7" rx="3" fill="#f0f0f2" stroke="#555" stroke-width="0.6"/><text x="1019" y="185">PAPER NOTEBOOK</text>
<rect x="1071" y="180" width="31" height="7" rx="3" fill="#f0f0f2" stroke="#555" stroke-width="0.6"/><text x="1086" y="185">PAPER NOTEBOOK</text>
<g stroke-width="1" stroke-dasharray="3,2"><line x1="1010" y1="67" x2="1067" y2="67" stroke="#e22"/><line x1="1034" y1="68" x2="1079" y2="68" stroke="#1a8a1a"/><line x1="1033" y1="136" x2="1093" y2="136" stroke="#e22"/><line x1="1009" y1="171" x2="1069" y2="171" stroke="#1a8a1a"/></g>
</g>
</g>
</svg>
</body></html>
